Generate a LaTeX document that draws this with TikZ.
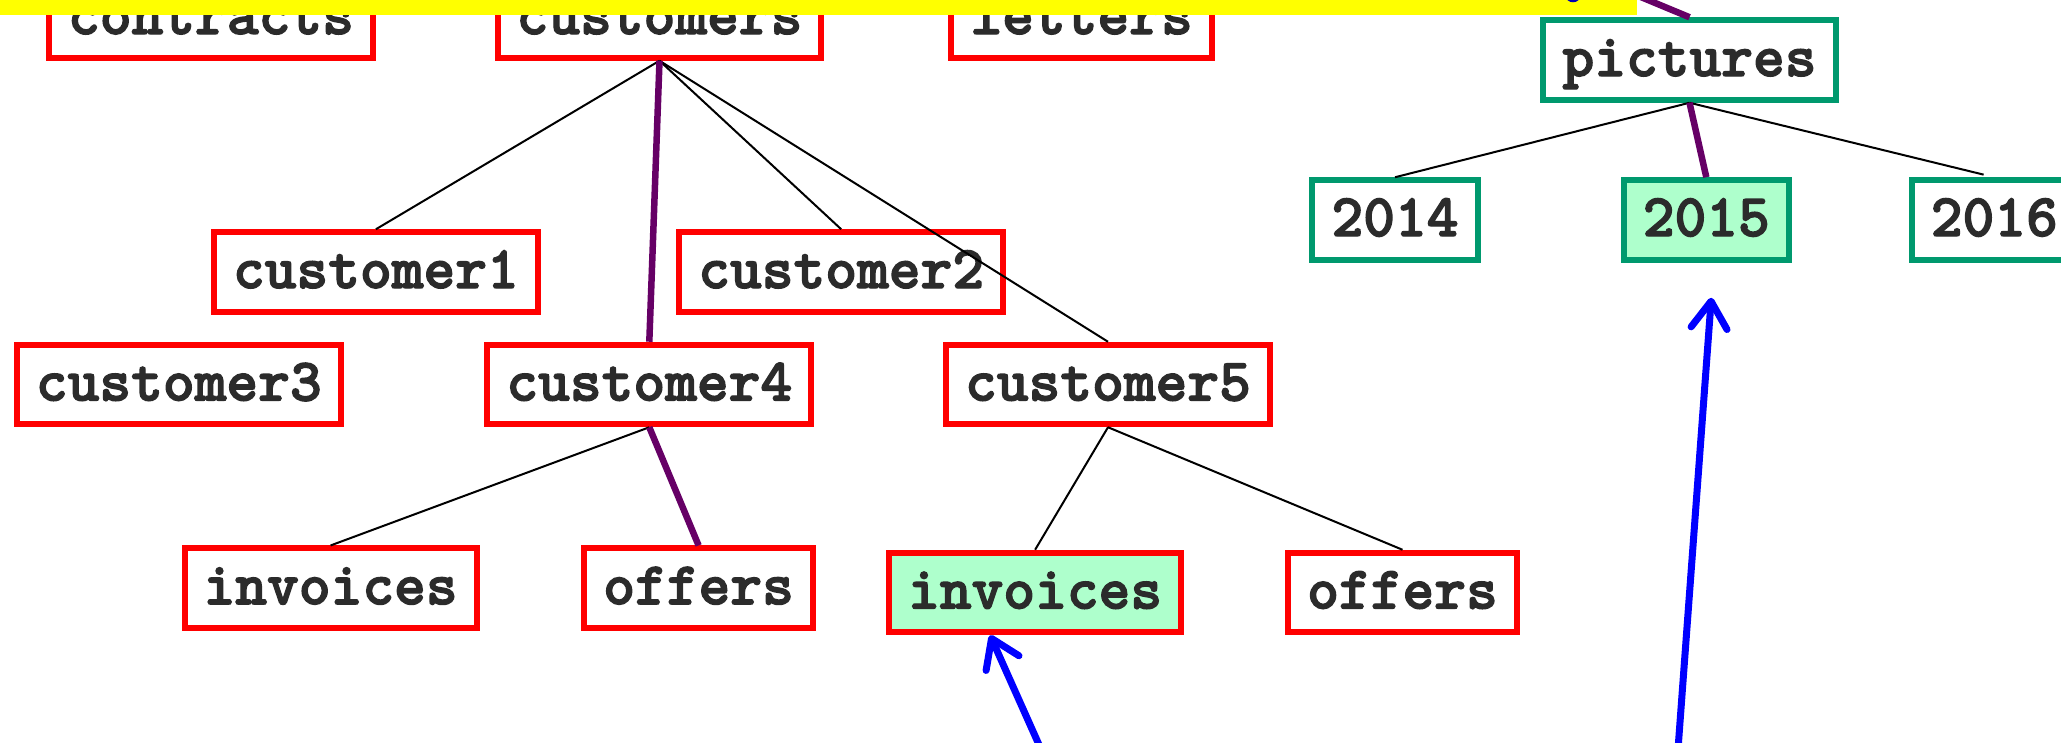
\documentclass[tikz,border=0pt]{standalone}
\usepackage{fontspec}
\setmonofont{lmmonolt10-regular.otf}[BoldFont=lmmonolt10-bold.otf,BoldFeatures={FakeBold=2.2}]
\usetikzlibrary{arrows.meta}
\definecolor{txt}{HTML}{2B2B2B}
\definecolor{gborder}{HTML}{00996E}
\definecolor{lgreen}{RGB}{174,255,204}
\definecolor{purp}{HTML}{660066}
\definecolor{bandyellow}{RGB}{255,255,0}
\tikzset{
  box/.style={draw=red, line width=6pt, fill=white, inner xsep=19pt, inner ysep=0pt,
    minimum height=79.5pt, text height=38pt, text depth=6pt, text=txt,
    font=\fontsize{60.5}{66}\selectfont\ttfamily\bfseries},
  gbox/.style={box, draw=gborder},
  sel/.style={fill=lgreen},
  thinl/.style={draw=black, line width=2pt},
  hl/.style={draw=purp, line width=6.5pt},
  arr/.style={draw=blue, line width=7pt, line cap=round, -{Straight Barb[length=27pt,width=36pt,round]}}
}
\begin{document}
\begin{tikzpicture}[x=1pt,y=-1pt]
\useasboundingbox (0,0) rectangle (2061,742);
\clip (0,0) rectangle (2061,742);
\fill[white] (0,0) rectangle (2061,742);
% top row
\node[box] (contracts) at (211,18) {contracts};
\node[box] (customers) at (659.5,18) {customers};
\node[box] (letters) at (1081.6,18) {letters};
% customers level
\node[box] (c1) at (375.9,272) {customer1};
\node[box] (c2) at (841.2,272) {customer2};
\node[box] (c3) at (178.8,384.5) {customer3};
\node[box] (c4) at (649.3,384.5) {customer4};
\node[box] (c5) at (1108,384.5) {customer5};
\node[box] (inv4) at (330.6,588.2) {invoices};
\node[box] (off4) at (698.6,588.2) {offers};
\node[box,sel] (inv5) at (1035.1,592.5) {invoices};
\node[box] (off5) at (1402.5,592.5) {offers};
% pictures
\node[gbox] (pic) at (1689.5,60) {pictures};
\node[gbox] (y14) at (1395,220) {2014};
\node[gbox,sel] (y15) at (1706.3,220) {2015};
\node[gbox] (y16) at (1994.3,220) {2016};
% connectors
\draw[thinl] (customers.south) -- (c1.north);
\draw[thinl] (customers.south) -- (c2.north);
\draw[thinl] (customers.south) -- (c5.north);
\draw[hl] (customers.south) -- (c4.north);
\draw[thinl] (c4.south) -- (inv4.north);
\draw[hl] (c4.south) -- (off4.north);
\draw[thinl] (c5.south) -- (inv5.north);
\draw[thinl] (c5.south) -- (off5.north);
\draw[thinl] (pic.south) -- (y14.north);
\draw[thinl, shorten >=11pt] (pic.south) -- (y16.north);
\draw[hl] (pic.south) -- (y15.north);
% yellow band and top connector
\fill[fill=bandyellow] (0,-5) rectangle (1636.5,15);
\coordinate (topin) at (1600,-20);
\draw[hl] (topin) -- (pic.north);
\draw[draw=blue!70!black, line width=2.5pt] (1573,-4) ellipse [x radius=6, y radius=5];
% blue arrows
\coordinate (a1s) at (1045.8,760);
\coordinate (a1t) at ([xshift=-45pt]inv5.south);
\coordinate (a2s) at (1677.2,760);
\coordinate (a2t) at ([xshift=5pt,yshift=-35pt]y15.south);
\draw[arr] (a1s) -- (a1t);
\draw[arr] (a2s) -- (a2t);
\end{tikzpicture}
\end{document}
